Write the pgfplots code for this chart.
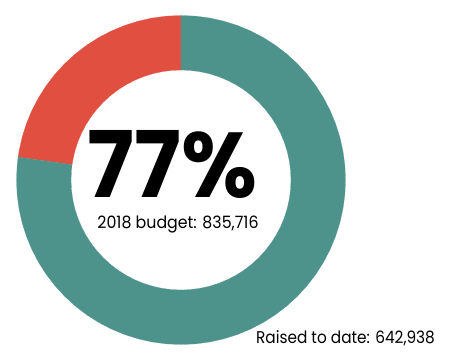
\documentclass[border=0pt]{standalone}
\usepackage{pgfplots}
\pgfplotsset{compat=1.18}
\usepackage{fontspec}
\setmainfont{Poppins}
\definecolor{tealc}{HTML}{4D928B}
\definecolor{redc}{HTML}{E04F40}
\begin{document}
\begin{tikzpicture}
\begin{axis}[
  scale only axis, width=450pt, height=360pt,
  xmin=-181, xmax=269, ymin=-180, ymax=180,
  hide axis, clip=false]
% red segment (remaining share)
\addplot[fill=redc, draw=redc, line width=0.2pt, data cs=polar] coordinates {
(90,164.5)(95,164.5)(100,164.5)(105,164.5)(110,164.5)(115,164.5)(120,164.5)(125,164.5)(130,164.5)(135,164.5)(140,164.5)(145,164.5)(150,164.5)(155,164.5)(160,164.5)(165,164.5)(170,164.5)(172,164.5)
(172,110)(170,110)(165,110)(160,110)(155,110)(150,110)(145,110)(140,110)(135,110)(130,110)(125,110)(120,110)(115,110)(110,110)(105,110)(100,110)(95,110)(90,110)
} -- cycle;
% teal segment (raised to date)
\addplot[fill=tealc, draw=tealc, line width=0.2pt, data cs=polar] coordinates {
(172,164.5)(175,164.5)(180,164.5)(185,164.5)(190,164.5)(195,164.5)(200,164.5)(205,164.5)(210,164.5)(215,164.5)(220,164.5)(225,164.5)(230,164.5)(235,164.5)(240,164.5)(245,164.5)(250,164.5)(255,164.5)(260,164.5)(265,164.5)(270,164.5)(275,164.5)(280,164.5)(285,164.5)(290,164.5)(295,164.5)(300,164.5)(305,164.5)(310,164.5)(315,164.5)(320,164.5)(325,164.5)(330,164.5)(335,164.5)(340,164.5)(345,164.5)(350,164.5)(355,164.5)(360,164.5)(365,164.5)(370,164.5)(375,164.5)(380,164.5)(385,164.5)(390,164.5)(395,164.5)(400,164.5)(405,164.5)(410,164.5)(415,164.5)(420,164.5)(425,164.5)(430,164.5)(435,164.5)(440,164.5)(445,164.5)(450,164.5)
(450,110)(445,110)(440,110)(435,110)(430,110)(425,110)(420,110)(415,110)(410,110)(405,110)(400,110)(395,110)(390,110)(385,110)(380,110)(375,110)(370,110)(365,110)(360,110)(355,110)(350,110)(345,110)(340,110)(335,110)(330,110)(325,110)(320,110)(315,110)(310,110)(305,110)(300,110)(295,110)(290,110)(285,110)(280,110)(275,110)(270,110)(265,110)(260,110)(255,110)(250,110)(245,110)(240,110)(235,110)(230,110)(225,110)(220,110)(215,110)(210,110)(205,110)(200,110)(195,110)(190,110)(185,110)(180,110)(175,110)(172,110)
} -- cycle;
\node[anchor=base, inner sep=0pt] at (axis cs:-8.5,-17) {\scalebox{0.95}[1]{\fontsize{92}{92}\selectfont\bfseries 77\%}};
\node[anchor=base, inner sep=0pt] at (axis cs:-3,-48) {\scalebox{0.93}[1]{\fontsize{17}{17}\selectfont 2018 budget: 835,716}};
\node[anchor=base, inner sep=0pt] at (axis cs:164.5,-163) {\scalebox{0.9}[1]{\fontsize{17}{17}\selectfont Raised to date: 642,938}};
\end{axis}
\pgfresetboundingbox
\path[use as bounding box] (current axis.south west) rectangle (current axis.north east);
\end{tikzpicture}
\end{document}
